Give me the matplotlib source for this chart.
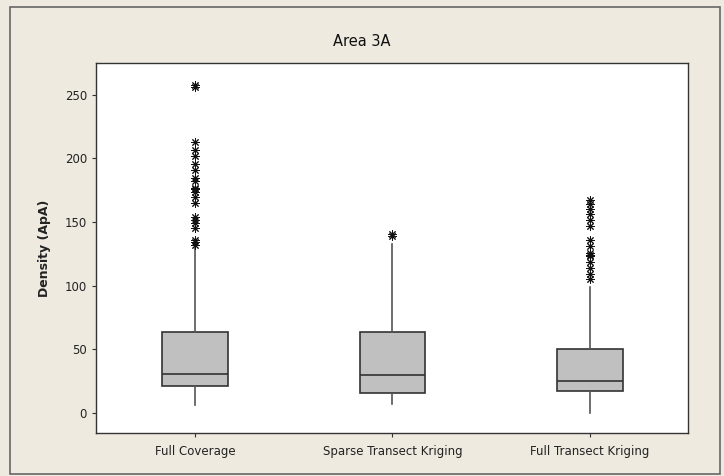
import matplotlib.pyplot as plt
from matplotlib.patches import Rectangle

# Box statistics (Density, ApA)
groups = ['Full Coverage', 'Sparse Transect Kriging', 'Full Transect Kriging']
q1 = [21, 16, 17]
med = [31, 30, 25]
q3 = [64, 64, 50]
whislo = [6, 7, 0]
whishi = [130, 133, 99]
outliers = [
    [258, 256, 213, 207, 202, 196, 191, 185, 182, 177, 176, 174, 170, 165,
     154, 152, 149, 145, 136, 134, 132],
    [141, 139],
    [167, 164, 160, 156, 152, 147, 136, 131, 126, 124, 123, 119, 114, 109, 105],
]

stats = []
for i in range(len(groups)):
    stats.append(dict(label=groups[i], q1=q1[i], med=med[i], q3=q3[i],
                      whislo=whislo[i], whishi=whishi[i], fliers=outliers[i]))

bg = '#eeeae0'
fig = plt.figure(figsize=(7.24, 4.76), dpi=100, facecolor=bg)
ax = fig.add_axes([96 / 724, 1 - 433 / 476, 592 / 724, 370 / 476])
ax.set_facecolor('white')

ax.bxp(stats, positions=[1, 2, 3], widths=0.333, patch_artist=True,
       showcaps=False,
       boxprops=dict(facecolor='#c0c0c0', edgecolor='#333333', linewidth=1.2),
       medianprops=dict(color='#333333', linewidth=1.2),
       whiskerprops=dict(color='#555555', linewidth=1.2),
       flierprops=dict(marker=(8, 2, 0), markersize=6, markeredgecolor='#111111',
                       markeredgewidth=0.7, markerfacecolor='none'))

ax.set_xlim(0.5, 3.495)
ax.set_ylim(-15.7, 275)
ax.set_yticks([0, 50, 100, 150, 200, 250])
for s in ax.spines.values():
    s.set_color('#333333')
    s.set_linewidth(1.0)
ax.tick_params(axis='both', direction='out', length=3, color='#333333',
               labelsize=8.5, labelcolor='#222222')
ax.tick_params(axis='x', pad=6)
ax.set_ylabel('Density (ApA)', fontsize=9, fontweight='bold', color='#222222',
              labelpad=10)
fig.text(362 / 724, 1 - 42 / 476, 'Area 3A', ha='center', va='center',
         fontsize=10.5, color='#111111')

fig.patches.append(Rectangle((10 / 724, 1 - 474 / 476), 710 / 724, 467 / 476,
                             transform=fig.transFigure, fill=False,
                             edgecolor='#666666', linewidth=1.2))

fig.savefig('out.png', dpi=100, facecolor=bg)
